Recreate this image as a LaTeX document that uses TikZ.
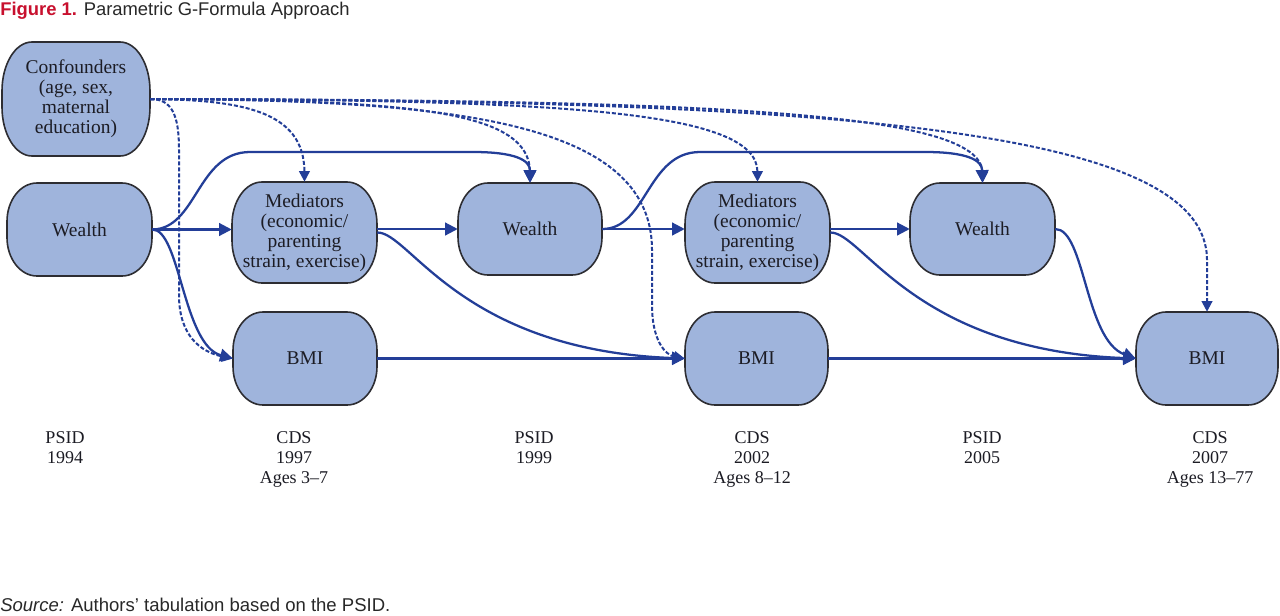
\documentclass[tikz,border=0pt]{standalone}
\usepackage{fontspec}
\setmainfont{Liberation Serif}
\newfontfamily\titlefont{Liberation Sans}
\usetikzlibrary{arrows.meta}
\definecolor{arrowblue}{RGB}{35,62,152}
\definecolor{boxfill}{RGB}{159,180,220}
\definecolor{boxedge}{RGB}{45,45,50}
\definecolor{titlered}{RGB}{200,16,46}
\definecolor{textdark}{RGB}{28,28,36}
\definecolor{textgray}{RGB}{40,40,40}

\tikzset{
  boxshape/.style={fill=boxfill, draw=boxedge, line width=1.2pt},
  boxtext/.style={draw=none, inner sep=0pt, align=center, text=textdark,
    font=\fontsize{14.6}{15}\selectfont},
  lbl/.style={anchor=base, inner sep=0pt, text=textdark, font=\fontsize{13.5}{15}\selectfont},
  conn/.style={draw=arrowblue, line width=1.7pt, -{Triangle[length=9.5pt,width=9.5pt]}},
  dconn/.style={draw=arrowblue, line width=1.5pt, dash pattern=on 3pt off 1.5pt,
    -{Triangle[length=8pt,width=8pt]}},
}

% name, x1, y1, x2, y2 (pixels), text
\newcommand{\myrbox}[6]{%
  \pgfmathsetmacro\myry{((#5)-(#3))/2-8}%
  \pgfmathsetmacro\myrypt{\myry*0.75}%
  \pgfmathsetmacro\mybw{((#4)-(#2))*0.75}%
  \pgfmathsetmacro\mybh{((#5)-(#3))*0.75}%
  \draw[boxshape] ({#2+30},#3) -- ({#4-30},#3)
    arc[start angle=90,end angle=0,x radius=22.5pt,y radius=\myrypt pt]
    -- ({#4},{#5-\myry})
    arc[start angle=0,end angle=-90,x radius=22.5pt,y radius=\myrypt pt]
    -- ({#2+30},#5)
    arc[start angle=270,end angle=180,x radius=22.5pt,y radius=\myrypt pt]
    -- ({#2},{#3+\myry})
    arc[start angle=180,end angle=90,x radius=22.5pt,y radius=\myrypt pt]
    -- cycle;
  \node[boxtext, minimum width=\mybw pt, minimum height=\mybh pt] (#1)
    at ({(#2+#4)/2},{(#3+#5)/2}) {#6};
}

\begin{document}
\begin{tikzpicture}[x=0.75pt, y=-0.75pt]
\useasboundingbox[fill=white] (0,0) rectangle (1280,615);

% title and source
\node[anchor=base west, inner sep=0pt, font=\titlefont\fontsize{13.8}{16}\selectfont] (title) at (0,15)
  {\textcolor{titlered}{\bfseries Figure 1.} \textcolor{textgray}{Parametric G-Formula Approach}};
\node[anchor=base west, inner sep=0pt, text=textgray, font=\titlefont\fontsize{13.9}{16}\selectfont] (src) at (0,611)
  {\textit{Source:} Authors’ tabulation based on the PSID.};

% boxes
\myrbox{conf}{2}{42}{150}{156}{Confounders\\(age, sex,\\maternal\\education)}
\myrbox{w1}{7}{183}{152}{276}{Wealth}
\myrbox{m1}{232}{182}{377}{283}{Mediators\\(economic/\\parenting\\strain, exercise)}
\myrbox{w2}{458}{183}{602}{275}{Wealth}
\myrbox{m2}{685}{182}{830}{283}{Mediators\\(economic/\\parenting\\strain, exercise)}
\myrbox{w3}{910}{183}{1055}{275}{Wealth}
\myrbox{b1}{233}{312}{377}{405}{BMI}
\myrbox{b2}{685}{312}{828}{405}{BMI}
\myrbox{b3}{1136}{312}{1278}{405}{BMI}

% solid connectors
\draw[conn] (w1.east) -- (w1.east -| m1.west);
\draw[conn] (w2.west -| m1.east) -- (w2.west);
\draw[conn] (w2.east) -- (w2.east -| m2.west);
\draw[conn] (w3.west -| m2.east) -- (w3.west);
\draw[conn] (b1.east) -- (b2.west);
\draw[conn] (b2.east) -- (b3.west);
\draw[conn] (w1.east) .. controls (197,229) and (197,152) .. (250,152) -- (473,152)
  .. controls (515,152) and (530,160) .. (w2.north);
\draw[conn] (w2.east) .. controls (647,229) and (647,152) .. (700,152) -- (925,152)
  .. controls (967,152) and (982,160) .. (w3.north);
\draw[conn] (w1.east) .. controls (180,229) and (183,345) .. (b1.west);
\draw[conn] (m1.east) .. controls (410,232) and (460,350) .. (b2.west);
\draw[conn] (m2.east) .. controls (863,232) and (913,350) .. (b3.west);
\draw[conn] (w3.east) .. controls (1085,229) and (1085,340) .. (b3.west);

% dashed connectors from confounders
\draw[dconn] (conf.east) .. controls (172,99) and (179,115) .. (179,150) -- (179,295)
  .. controls (179,335) and (200,352) .. (b1.west);
\draw[dconn] (conf.east) .. controls (240,100) and (304,110) .. (m1.north);
\draw[dconn] (conf.east) .. controls (420,100) and (530,112) .. (w2.north);
\draw[dconn] (conf.east) .. controls (450,100) and (652,120) .. (652,250) -- (652,305)
  .. controls (652,340) and (665,355) .. (b2.west);
\draw[dconn] (conf.east) .. controls (560,100) and (757,110) .. (m2.north);
\draw[dconn] (conf.east) .. controls (720,100) and (982,112) .. (w3.north);
\draw[dconn] (conf.east) .. controls (850,100) and (1207,130) .. (1207,260) -- (b3.north);

% wave labels
\node[lbl] (p1a) at (65,443) {PSID};
\node[lbl] (p1b) at (65,463) {1994};
\node[lbl] (c1a) at (294,443) {CDS};
\node[lbl] (c1b) at (294,463) {1997};
\node[lbl] (c1c) at (294,483) {Ages 3–7};
\node[lbl] (p2a) at (534,443) {PSID};
\node[lbl] (p2b) at (534,463) {1999};
\node[lbl] (c2a) at (752,443) {CDS};
\node[lbl] (c2b) at (752,463) {2002};
\node[lbl] (c2c) at (752,483) {Ages 8–12};
\node[lbl] (p3a) at (982,443) {PSID};
\node[lbl] (p3b) at (982,463) {2005};
\node[lbl] (c3a) at (1210,443) {CDS};
\node[lbl] (c3b) at (1210,463) {2007};
\node[lbl] (c3c) at (1210,483) {Ages 13–77};
\end{tikzpicture}
\end{document}
